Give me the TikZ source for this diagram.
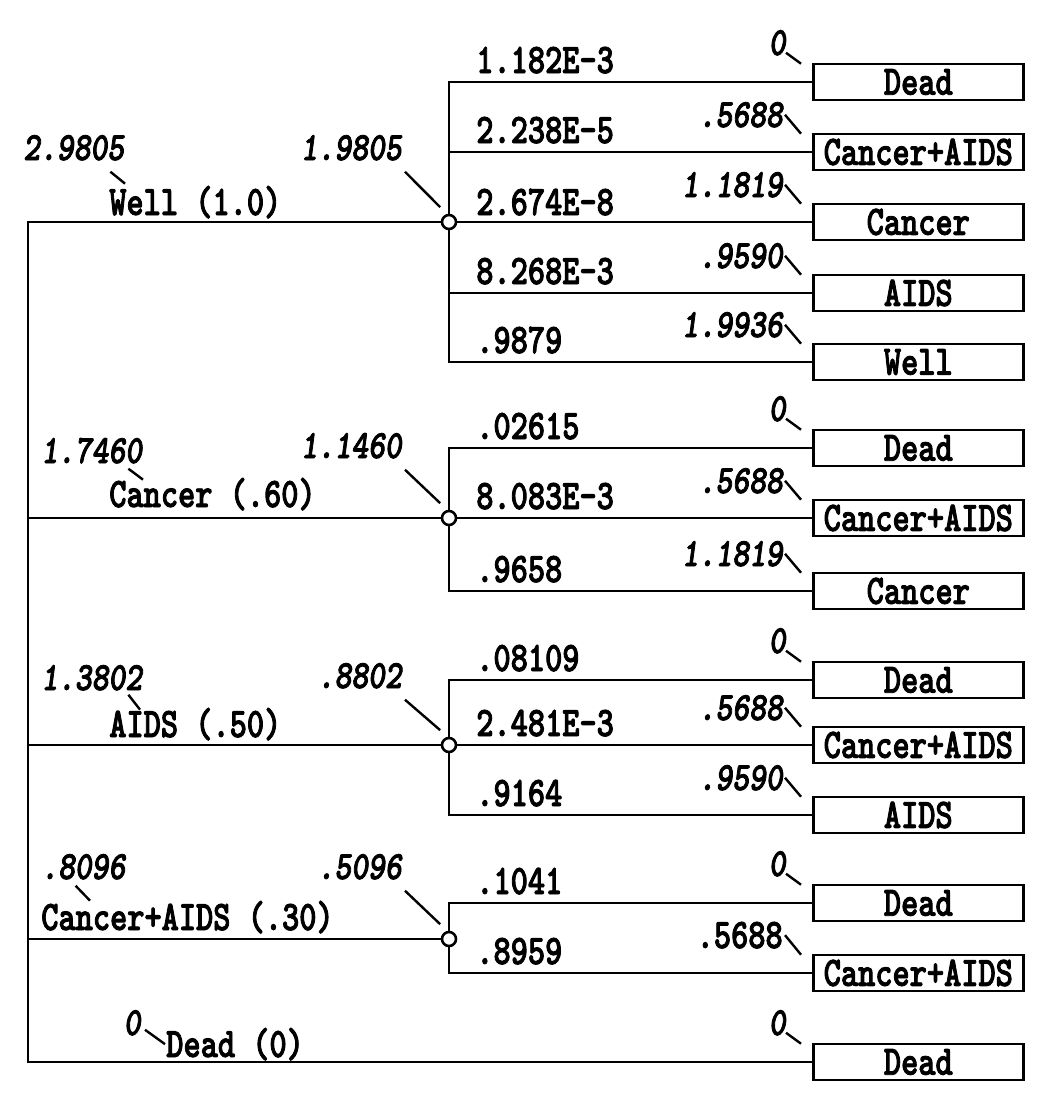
\documentclass[tikz,border=0pt]{standalone}
\usepackage{fontspec}
\newfontfamily\lblfont{lmmonolt10-bold.otf}[FakeStretch=0.78, FakeBold=2]
\newfontfamily\valfont{lmmonolt10-boldoblique.otf}[FakeStretch=0.8, FakeBold=2]
\newcommand\lblsize{\lblfont\fontsize{42}{46}\selectfont}
\newcommand\valsize{\valfont\fontsize{40}{44}\selectfont}
\usetikzlibrary{calc}

\begin{document}
\begin{tikzpicture}[x = 1pt, y = -1pt, line width = 2.6pt,
  lbl/.style = {font = \lblsize, inner sep = 0pt, anchor = base west},
  lblr/.style = {lbl, anchor = base east},
  val/.style = {font = \valsize, inner sep = 0pt, anchor = base west},
  valr/.style = {val, anchor = base east},
  box/.style = {draw, font = \lblsize, minimum width = 210pt, minimum height = 36pt, inner sep = 0pt, anchor = west},
  chance/.style = {circle, draw, fill = white, minimum size = 14pt, inner sep = 0pt},
  tick/.style = {line width = 2.4pt}]
\useasboundingbox (0, 0) rectangle (1056, 1098);
\fill [white] (0, 0) rectangle (1056, 1098);
%\draw[very thin, color = gray](0, 0) grid[step = 50] (1056, 1098);
\coordinate (top) at (28, 222);
% Well
\node (rv1) at (22, 160) [val] {2.9805};
\node (rl1) at (108, 215) [lbl] {Well (1.0)};
\node (cv1) at (403, 160) [valr] {1.9805};
\node (c1) at (449, 222) [chance] {};
\node (b11) at (812, 82) [box] {Dead};
\node (b12) at (812, 152) [box] {Cancer+AIDS};
\node (b13) at (812, 222) [box] {Cancer};
\node (b14) at (812, 293) [box] {AIDS};
\node (b15) at (812, 362) [box] {Well};
\node (p11) at (475, 73) [lbl] {1.182E-3};
\node (p12) at (475, 143) [lbl] {2.238E-5};
\node (p13) at (475, 215) [lbl] {2.674E-8};
\node (p14) at (475, 284) [lbl] {8.268E-3};
\node (p15) at (475, 353) [lbl] {.9879};
\node (v11) at (787, 55) [valr] {0};
\node (v12) at (784, 127) [valr] {.5688};
\node (v13) at (784, 197) [valr] {1.1819};
\node (v14) at (784, 268) [valr] {.9590};
\node (v15) at (784, 337) [valr] {1.9936};
% Cancer
\node (rv2) at (40, 463) [val] {1.7460};
\node (rl2) at (108, 507) [lbl] {Cancer (.60)};
\node (cv2) at (403, 458) [valr] {1.1460};
\node (c2) at (449, 518) [chance] {};
\node (b21) at (812, 448) [box] {Dead};
\node (b22) at (812, 518) [box] {Cancer+AIDS};
\node (b23) at (812, 591) [box] {Cancer};
\node (p21) at (475, 439) [lbl] {.02615};
\node (p22) at (475, 509) [lbl] {8.083E-3};
\node (p23) at (475, 582) [lbl] {.9658};
\node (v21) at (787, 421) [valr] {0};
\node (v22) at (784, 493) [valr] {.5688};
\node (v23) at (784, 566) [valr] {1.1819};
% AIDS
\node (rv3) at (40, 690) [val] {1.3802};
\node (rl3) at (108, 737) [lbl] {AIDS (.50)};
\node (cv3) at (403, 688) [valr] {.8802};
\node (c3) at (449, 745) [chance] {};
\node (b31) at (812, 680) [box] {Dead};
\node (b32) at (812, 745) [box] {Cancer+AIDS};
\node (b33) at (812, 815) [box] {AIDS};
\node (p31) at (475, 671) [lbl] {.08109};
\node (p32) at (475, 736) [lbl] {2.481E-3};
\node (p33) at (475, 806) [lbl] {.9164};
\node (v31) at (787, 653) [valr] {0};
\node (v32) at (784, 720) [valr] {.5688};
\node (v33) at (784, 790) [valr] {.9590};
% Cancer+AIDS
\node (rv4) at (40, 879) [val] {.8096};
\node (rl4) at (40, 930) [lbl] {Cancer+AIDS (.30)};
\node (cv4) at (403, 879) [valr] {.5096};
\node (c4) at (449, 939) [chance] {};
\node (b41) at (812, 903) [box] {Dead};
\node (b42) at (812, 973) [box] {Cancer+AIDS};
\node (p41) at (475, 894) [lbl] {.1041};
\node (p42) at (475, 964) [lbl] {.8959};
\node (v41) at (787, 876) [valr] {0};
\node (v42) at (784, 948) [lblr] {.5688};
% Dead
\node (rv5) at (142, 1035) [valr] {0};
\node (rl5) at (165, 1057) [lbl] {Dead (0)};
\node (b51) at (812, 1062) [box] {Dead};
\node (v51) at (787, 1035) [valr] {0};
% trunk
\draw (c1.west) -- (top) -- (top |- b51.west) -- (b51.west);
\draw (top |- c2.west) -- (c2.west);
\draw (top |- c3.west) -- (c3.west);
\draw (top |- c4.west) -- (c4.west);
% branches
\draw (c1.north) |- (b11.west);
\draw (c1.north) |- (b12.west);
\draw (c1.east) -- (b13.west);
\draw (c1.south) |- (b14.west);
\draw (c1.south) |- (b15.west);
\draw (c2.north) |- (b21.west);
\draw (c2.east) -- (b22.west);
\draw (c2.south) |- (b23.west);
\draw (c3.north) |- (b31.west);
\draw (c3.east) -- (b32.west);
\draw (c3.south) |- (b33.west);
\draw (c4.north) |- (b41.west);
\draw (c4.south) |- (b42.west);
% ticks
\draw [tick] ([shift = {(-15, 10)}]rv1.south east) -- ([shift = {(17, -1)}]rl1.north west);
\draw [tick] ([shift = {(-15, 4)}]rv2.south east) -- ([shift = {(35, 3)}]rl2.north west);
\draw [tick] ([shift = {(-15, 3)}]rv3.south east) -- ([shift = {(32, 3)}]rl3.north west);
\draw [tick] ([shift = {(-51, 5)}]rv4.south east) -- ([shift = {(50, 1)}]rl4.north west);
\draw [tick] ([shift = {(3, -7)}]rv5.south east) -- (rl5.west);
\draw [tick] ([shift = {(2, 10)}]cv1.south east) -- ([shift = {(-3, -9)}]c1.north west);
\draw [tick] ([shift = {(2, 10)}]cv2.south east) -- ([shift = {(-3, -9)}]c2.north west);
\draw [tick] ([shift = {(2, 10)}]cv3.south east) -- ([shift = {(-3, -9)}]c3.north west);
\draw [tick] ([shift = {(2, 10)}]cv4.south east) -- ([shift = {(-3, -9)}]c4.north west);
\draw [tick] ([shift = {(-1, -4)}]v11.south east) -- ([shift = {(-11, 1)}]b11.north west);
\draw [tick] ([shift = {(1, 0)}]v12.east) -- ([shift = {(-11, 1)}]b12.north west);
\draw [tick] ([shift = {(1, 0)}]v13.east) -- ([shift = {(-11, 1)}]b13.north west);
\draw [tick] ([shift = {(1, 0)}]v14.east) -- ([shift = {(-11, 1)}]b14.north west);
\draw [tick] ([shift = {(1, 0)}]v15.east) -- ([shift = {(-11, 1)}]b15.north west);
\draw [tick] ([shift = {(-1, -4)}]v21.south east) -- ([shift = {(-11, 1)}]b21.north west);
\draw [tick] ([shift = {(1, 0)}]v22.east) -- ([shift = {(-11, 1)}]b22.north west);
\draw [tick] ([shift = {(1, 0)}]v23.east) -- ([shift = {(-11, 1)}]b23.north west);
\draw [tick] ([shift = {(-1, -4)}]v31.south east) -- ([shift = {(-11, 1)}]b31.north west);
\draw [tick] ([shift = {(1, 0)}]v32.east) -- ([shift = {(-11, 1)}]b32.north west);
\draw [tick] ([shift = {(1, 0)}]v33.east) -- ([shift = {(-11, 1)}]b33.north west);
\draw [tick] ([shift = {(-1, -4)}]v41.south east) -- ([shift = {(-11, 1)}]b41.north west);
\draw [tick] ([shift = {(1, 0)}]v42.east) -- ([shift = {(-11, 1)}]b42.north west);
\draw [tick] ([shift = {(-1, -4)}]v51.south east) -- ([shift = {(-11, 1)}]b51.north west);
\end{tikzpicture}
\end{document}
